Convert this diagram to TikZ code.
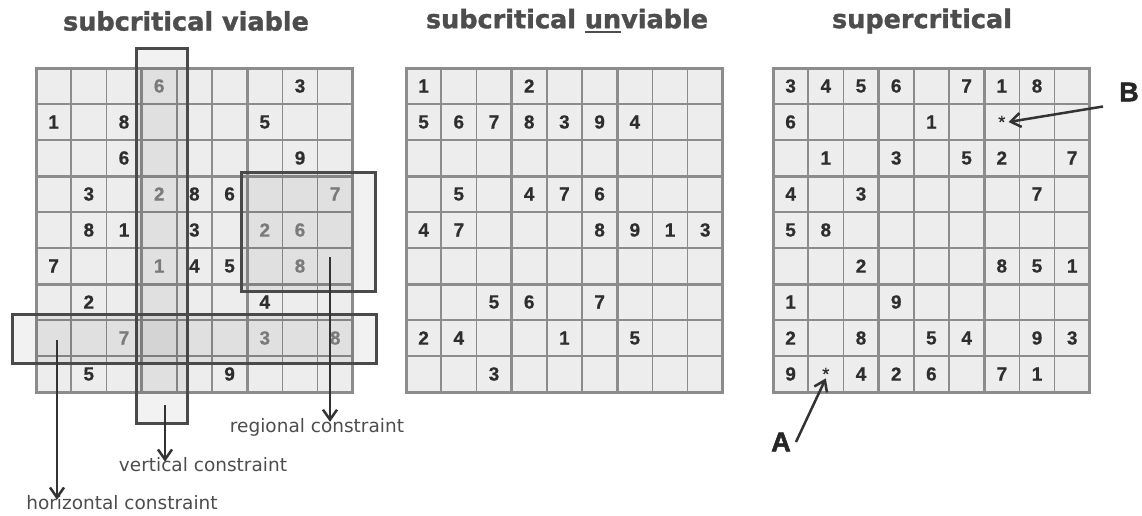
\documentclass[tikz,border=0pt]{standalone}
\usepackage{fontspec}
\setmainfont{DejaVu Sans}
\newfontfamily\digitfont[FakeBold=0.6]{Liberation Sans}
\newfontfamily\titlefont[FakeBold=1.4]{DejaVu Sans}
\newfontfamily\letterfont[FakeBold=2]{Liberation Sans}
\usetikzlibrary{arrows.meta}
\definecolor{cellgray}{HTML}{EDEDED}
\definecolor{linegray}{HTML}{8C8C8C}
\definecolor{boxgray}{HTML}{4A4A4A}
\definecolor{textgray}{HTML}{4D4D4D}
\definecolor{fadegray}{HTML}{7A7A7A}
\newcommand{\ulthick}[1]{\setbox0=\hbox{#1}\rlap{\rule[-5pt]{\wd0}{2pt}}\box0}
\tikzset{
	digit/.style={font=\digitfont\bfseries\fontsize{19}{19}\selectfont, text=black!82, inner sep=0pt},
	faded/.style={digit, text=fadegray},
	title/.style={font=\titlefont\bfseries\fontsize{25.5}{25.5}\selectfont, text=textgray, inner sep=0pt},
	caption/.style={font=\fontsize{18.5}{18.5}\selectfont, text=textgray, inner sep=0pt},
	letter/.style={font=\letterfont\bfseries\fontsize{27}{27}\selectfont, text=black!85, inner sep=0pt},
	constraint/.style={draw=boxgray, line width=3pt, fill=black, fill opacity=0.05},
	arr/.style={-{Straight Barb[length=10pt,width=14pt]}, line width=2.5pt, draw=black!80}
}
\begin{document}
\begin{tikzpicture}[x=1pt, y=-1pt]
		\useasboundingbox (0,0) rectangle (1142,515);
		% three boards
		\foreach \gx in {36,406,773} {
			\fill[cellgray] (\gx,68) rectangle ++(316.8,324);
			\foreach \i in {1,2,4,5,7,8} {
				\draw[linegray, line width=1.5pt] ({\gx+\i*35.2},68) -- ++(0,324);
				\draw[linegray, line width=1.5pt] (\gx,{68+\i*36}) -- ++(316.8,0);
			}
			\foreach \i in {0,3,6,9} {
				\draw[linegray, line width=3pt] ({\gx+\i*35.2},66.5) -- ++(0,327);
				\draw[linegray, line width=3pt] ({\gx-1.5},{68+\i*36}) -- ++(319.8,0);
			}
		}
		% titles
		\node[title] (t1) at (186,21) {subcritical viable};
		\node[title] (t2) at (567,21) {subcritical \ulthick{un}viable};
		\node[title] (t3) at (922,21) {supercritical};
		% constraint boxes
		\draw[constraint] (136,48) rectangle (187,423);
		\draw[constraint] (241,172) rectangle (375,291);
		\draw[constraint] (12,314) rectangle (376,363);
		% board 1
		\foreach \r/\c/\d in {1/8/3, 2/1/1, 2/3/8, 2/7/5, 3/3/6, 3/8/9, 4/2/3, 4/5/8, 4/6/6,
			5/2/8, 5/3/1, 5/5/3, 6/1/7, 6/5/4, 6/6/5, 7/2/2, 7/7/4, 9/2/5, 9/6/9} {
			\node[digit] (a-\r-\c) at ({36+(\c-0.5)*35.2}, {68+(\r-0.5)*36}) {\d};
		}
		\foreach \r/\c/\d in {1/4/6, 4/4/2, 6/4/1, 4/9/7, 5/7/2, 5/8/6, 6/8/8, 8/3/7, 8/7/3, 8/9/8} {
			\node[faded] (a-\r-\c) at ({36+(\c-0.5)*35.2}, {68+(\r-0.5)*36}) {\d};
		}
		% board 2
		\foreach \r/\c/\d in {1/1/1, 1/4/2, 2/1/5, 2/2/6, 2/3/7, 2/4/8, 2/5/3, 2/6/9, 2/7/4,
			4/2/5, 4/4/4, 4/5/7, 4/6/6, 5/1/4, 5/2/7, 5/6/8, 5/7/9, 5/8/1, 5/9/3,
			7/3/5, 7/4/6, 7/6/7, 8/1/2, 8/2/4, 8/5/1, 8/7/5, 9/3/3} {
			\node[digit] (b-\r-\c) at ({406+(\c-0.5)*35.2}, {68+(\r-0.5)*36}) {\d};
		}
		% board 3
		\foreach \r/\c/\d in {1/1/3, 1/2/4, 1/3/5, 1/4/6, 1/6/7, 1/7/1, 1/8/8, 2/1/6, 2/5/1,
			3/2/1, 3/4/3, 3/6/5, 3/7/2, 3/9/7, 4/1/4, 4/3/3, 4/8/7, 5/1/5, 5/2/8,
			6/3/2, 6/7/8, 6/8/5, 6/9/1, 7/1/1, 7/4/9, 8/1/2, 8/3/8, 8/5/5, 8/6/4, 8/8/9, 8/9/3,
			9/1/9, 9/3/4, 9/4/2, 9/5/6, 9/7/7, 9/8/1} {
			\node[digit] (c-\r-\c) at ({773+(\c-0.5)*35.2}, {68+(\r-0.5)*36}) {\d};
		}
		\node[digit, font=\digitfont\fontsize{18}{18}\selectfont] (starB) at ({773+6.5*35.2}, {68+1.5*36}) {*};
		\node[digit, font=\digitfont\fontsize{18}{18}\selectfont] (starA) at ({773+1.5*35.2}, {68+8.5*36}) {*};
		% letters
		\node[letter, anchor=west] (labB) at (1119,92) {B};
		\node[letter] (labA) at (781,442) {A};
		\draw[arr] ([xshift=-16pt,yshift=-5pt]labB.south west) -- ([xshift=3pt]starB.east);
		\draw[arr] ([xshift=5pt]labA.east) -- ([yshift=2pt]starA.south);
		% constraint labels
		\coordinate (hstart) at (57,340);
		\coordinate (vstart) at (165,405);
		\coordinate (rstart) at (330,257);
		\node[caption] (hlab) at (122,503) {horizontal constraint};
		\node[caption] (vlab) at (203,465) {vertical constraint};
		\node[caption] (rlab) at (317,427) {regional constraint};
		\draw[arr] (hstart) -- ([yshift=-4pt]hstart |- hlab.north);
		\draw[arr] (vstart) -- ([yshift=-4pt]vstart |- vlab.north);
		\draw[arr] (rstart) -- ([yshift=-4pt]rstart |- rlab.north);
	\end{tikzpicture}
\end{document}
